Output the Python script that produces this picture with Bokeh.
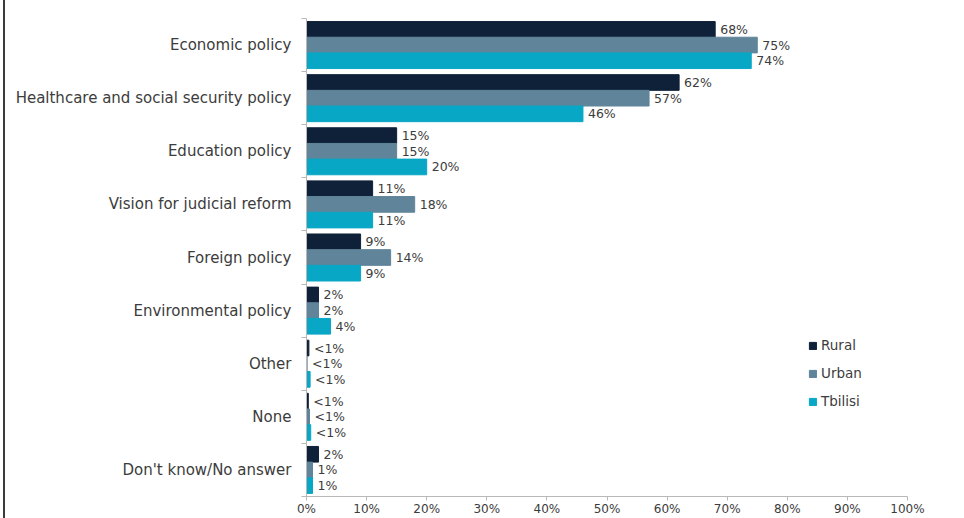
from bokeh.plotting import figure
from bokeh.models import ColumnDataSource, FixedTicker, Legend, LegendItem, NumeralTickFormatter
from bokeh.core.properties import value
from bokeh.embed import file_html
from bokeh.resources import INLINE

categories = ["Economic policy", "Healthcare and social security policy", "Education policy",
              "Vision for judicial reform", "Foreign policy", "Environmental policy",
              "Other", "None", "Don't know/No answer"]
rural = [68, 62, 15, 11, 9, 2, 0.4, 0.3, 2]
urban = [75, 57, 15, 18, 14, 2, 0.1, 0.5, 1]
tbilisi = [74, 46, 20, 11, 9, 4, 0.6, 0.7, 1]
series_names = ["Rural", "Urban", "Tbilisi"]
colors = ["#0e2139", "#60849a", "#08a7c5"]
x_ticks = [0, 10, 20, 30, 40, 50, 60, 70, 80, 90, 100]

FONT = "DejaVu Sans"
TXT = "#3c3c3c"
n = len(categories)
centers = [n - 1 - i for i in range(n)]

p = figure(width=959, height=518, output_backend="svg", toolbar_location=None,
           x_range=(0, 100), y_range=(-0.5, n - 0.5),
           min_border_left=301, min_border_right=57, min_border_top=18, min_border_bottom=21)
p.styles = {"border-left": "2px solid #3a3a3a", "margin-left": "3px"}
p.outline_line_color = None
p.grid.visible = False

bar_h = 0.295
offsets = [bar_h, 0.0, -bar_h]
items = []
for name, vals, col, off in zip(series_names, [rural, urban, tbilisi], colors, offsets):
    src = ColumnDataSource(dict(
        y=[c + off for c in centers],
        v=vals,
        lab=["<1%" if v < 1 else f"{v:.0f}%" for v in vals],
    ))
    r = p.hbar(y="y", left=0, right="v", height=bar_h, source=src,
               fill_color=col, line_color=col)
    p.text(x="v", y="y", text="lab", source=src, x_offset=5,
           text_font=value(FONT), text_font_size="12.5px", text_color=TXT,
           text_baseline="middle", text_align="left")
    items.append(LegendItem(label=name, renderers=[r]))

legend = Legend(items=items, location=(502, 87), glyph_width=9, glyph_height=9,
                label_text_font=FONT, label_text_font_size="13.5px", label_text_color=TXT,
                spacing=12, padding=0, border_line_color=None, background_fill_alpha=0,
                label_standoff=4)
p.add_layout(legend)

# x axis
p.xaxis.ticker = FixedTicker(ticks=x_ticks)
p.xaxis.formatter = NumeralTickFormatter(format="0")
p.xaxis.major_label_overrides = {t: f"{t}%" for t in x_ticks}
p.xaxis.axis_line_color = "#b8b8b8"
p.xaxis.major_tick_line_color = "#b8b8b8"
p.xaxis.major_tick_out = 4
p.xaxis.major_tick_in = 0
p.xaxis.minor_tick_line_color = None
p.xaxis.major_label_text_font = FONT
p.xaxis.major_label_text_font_size = "12px"
p.xaxis.major_label_text_color = TXT
p.xaxis.major_label_standoff = 1

# y axis
boundaries = [c - 0.5 for c in centers] + [n - 0.5]
p.yaxis.ticker = FixedTicker(ticks=centers, minor_ticks=boundaries)
p.yaxis.major_label_overrides = {c: cat for c, cat in zip(centers, categories)}
p.yaxis.axis_line_color = "#b8b8b8"
p.yaxis.major_tick_line_color = None
p.yaxis.major_tick_out = 0
p.yaxis.major_tick_in = 0
p.yaxis.minor_tick_line_color = "#b8b8b8"
p.yaxis.minor_tick_out = 5
p.yaxis.minor_tick_in = 0
p.yaxis.major_label_text_font = FONT
p.yaxis.major_label_text_font_size = "15px"
p.yaxis.major_label_text_color = TXT
p.yaxis.major_label_standoff = 10

open("out.html", "w").write(file_html(p, INLINE))
